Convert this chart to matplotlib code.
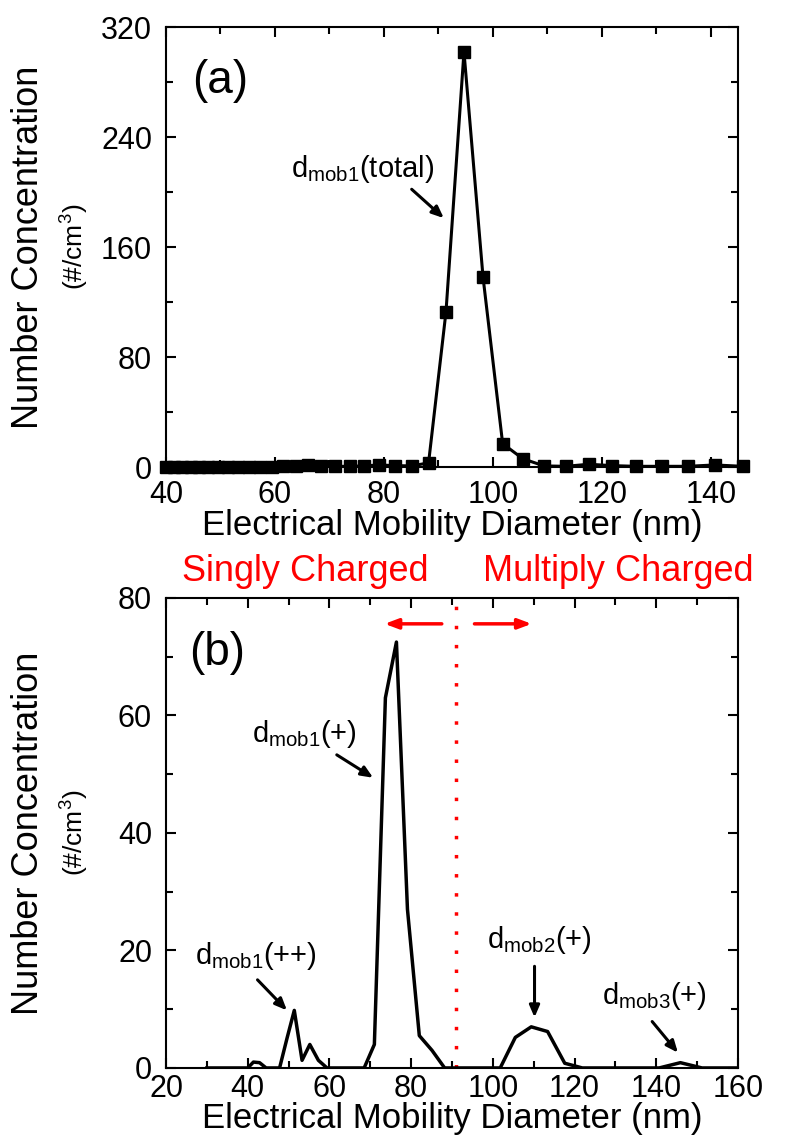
import matplotlib
matplotlib.use("Agg")
import matplotlib.pyplot as plt
from matplotlib.ticker import MultipleLocator

plt.rcParams["font.family"] = ["Liberation Sans", "DejaVu Sans"]
plt.rcParams["mathtext.default"] = "regular"

# -- Data -------------------------------------------------------------------
# (a) total distribution, SMPS bin midpoints (nm) and counts (#/cm3)
dia_a = [40.0, 41.4, 42.9, 44.5, 46.1, 47.8, 49.6, 51.4, 53.3, 55.2, 57.3,
         59.4, 61.5, 63.8, 66.1, 68.5, 71.0, 73.7, 76.4, 79.1, 82.0, 85.1,
         88.2, 91.4, 94.7, 98.2, 101.8, 105.5, 109.4, 113.4, 117.6, 121.9,
         126.3, 131.0, 135.8, 140.7, 145.9]
conc_a = [0.3, 0.3, 0.3, 0.3, 0.3, 0.3, 0.3, 0.3, 0.3, 0.3, 0.3,
          0.3, 0.5, 0.5, 1.5, 0.5, 0.5, 0.5, 0.8, 1.5, 1.0, 0.8,
          3.0, 113, 302, 138, 17, 6.0, 0.8, 0.5, 2.0, 1.0,
          0.5, 0.5, 0.5, 1.5, 0.5]

# (b) inverted distribution of singly charged particles
dia_b = [30.0, 31.1, 32.2, 33.4, 34.6, 35.9, 37.2, 38.5, 40.0, 41.4, 42.9,
         44.5, 46.1, 47.8, 49.6, 51.4, 53.3, 55.2, 57.3, 59.4, 61.5, 63.8,
         66.1, 68.5, 71.0, 73.7, 76.4, 79.1, 82.0, 85.1, 88.2, 91.4, 94.7,
         98.2, 101.8, 105.5, 109.4, 113.4, 117.6, 121.9, 126.3, 131.0, 135.8,
         140.7, 145.9, 151.2, 156.8, 162.5]
conc_b = [0, 0, 0, 0, 0, 0, 0, 0, 0, 1.0, 0.9,
          0, 0, 0, 5.0, 9.8, 1.3, 4.0, 1.3, 0, 0, 0,
          0, 0, 4.0, 63.0, 72.5, 27.0, 5.5, 3.0, 0, 0, 0,
          0, 0, 5.2, 7.0, 6.2, 0.8, 0, 0, 0, 0,
          0, 0.9, 0, 0, 0]

RED = "#FF0000"
TICK_FS = 22
LABEL_FS = 25
ANN_FS = 21


def style_axes(ax, xmaj, xmin, ymaj, ymin, xpad, xlab_y):
    ax.xaxis.set_major_locator(MultipleLocator(xmaj))
    ax.xaxis.set_minor_locator(MultipleLocator(xmin))
    ax.yaxis.set_major_locator(MultipleLocator(ymaj))
    ax.yaxis.set_minor_locator(MultipleLocator(ymin))
    ax.tick_params(which="both", direction="in", top=True, right=True,
                   width=1.5, labelsize=TICK_FS)
    ax.tick_params(which="major", length=7)
    ax.tick_params(which="minor", length=5)
    ax.tick_params(axis="x", which="major", pad=xpad)
    ax.tick_params(axis="y", which="major", pad=10)
    for s in ax.spines.values():
        s.set_linewidth(1.5)
    ax.set_xlabel("Electrical Mobility Diameter (nm)", fontsize=LABEL_FS)
    ax.xaxis.label.set_va("baseline")
    ax.xaxis.set_label_coords(0.5, xlab_y)
    # two-line y label: big first line, smaller unit line
    ax.text(-0.24, 0.5, "Number Concentration", transform=ax.transAxes,
            rotation=90, ha="center", va="center", fontsize=26)
    ax.text(-0.16, 0.5, "(#/cm$^3$)", transform=ax.transAxes,
            rotation=90, ha="center", va="center", fontsize=19)


def note(ax, text, xy_text, xy_tail, xy_head):
    ax.text(*xy_text, text, ha="center", va="center", fontsize=ANN_FS)
    ax.annotate("", xy=xy_head, xytext=xy_tail,
                arrowprops=dict(arrowstyle="-|>,head_length=0.7,head_width=0.3",
                                color="black", lw=2.2, shrinkA=0, shrinkB=0))


fig = plt.figure(figsize=(7.92, 11.36), dpi=100)
ax_a = fig.add_axes([0.2096, 0.5889, 0.7222, 0.3873])
ax_b = fig.add_axes([0.2096, 0.0599, 0.7222, 0.4137])

# -- Panel (a) ----------------------------------------------------------------
ax_a.plot(dia_a, conc_a, color="black", lw=2.2, marker="s", markersize=8,
          clip_on=False, zorder=3)
ax_a.set_xlim(40, 145)
ax_a.set_ylim(0, 320)
style_axes(ax_a, 20, 10, 80, 40, xpad=9, xlab_y=-0.155)
ax_a.text(50.0, 281, "(a)", ha="center", va="center", fontsize=33)
note(ax_a, "d$_{mob1}$(total)", (76.0, 217), (85.1, 202), (91.0, 181))

# -- Panel (b) ----------------------------------------------------------------
ax_b.plot(dia_b, conc_b, color="black", lw=2.5, zorder=3)
ax_b.set_xlim(20, 160)
ax_b.set_ylim(0, 80)
style_axes(ax_b, 20, 10, 20, 10, xpad=4, xlab_y=-0.128)
ax_b.text(32.5, 70.6, "(b)", ha="center", va="center", fontsize=33)

# boundary between singly and multiply charged
ax_b.axvline(91, color=RED, lw=2.5, linestyle=(0, (1, 4.5)), zorder=2)
ax_b.annotate("", xy=(73.5, 75.6), xytext=(87.5, 75.6),
              arrowprops=dict(arrowstyle="-|>,head_length=0.8,head_width=0.3",
                              color=RED, lw=2.5, shrinkA=0, shrinkB=0))
ax_b.annotate("", xy=(109.5, 75.6), xytext=(95.5, 75.6),
              arrowprops=dict(arrowstyle="-|>,head_length=0.8,head_width=0.3",
                              color=RED, lw=2.5, shrinkA=0, shrinkB=0))

note(ax_b, "d$_{mob1}$(+)", (54.0, 56.9), (61.8, 53.3), (70.7, 49.4))
note(ax_b, "d$_{mob1}$(++)", (42.0, 19.0), (42.4, 15.0), (49.6, 9.8))
note(ax_b, "d$_{mob2}$(+)", (111.3, 21.8), (110.2, 17.3), (110.2, 8.6))
note(ax_b, "d$_{mob3}$(+)", (139.5, 12.3), (139.0, 7.9), (145.3, 2.6))

fig.text(0.385, 0.4965, "Singly Charged", color=RED, fontsize=26,
         ha="center", va="center")
fig.text(0.780, 0.4965, "Multiply Charged", color=RED, fontsize=26,
         ha="center", va="center")

fig.savefig("out.png", dpi=100, facecolor="white")
